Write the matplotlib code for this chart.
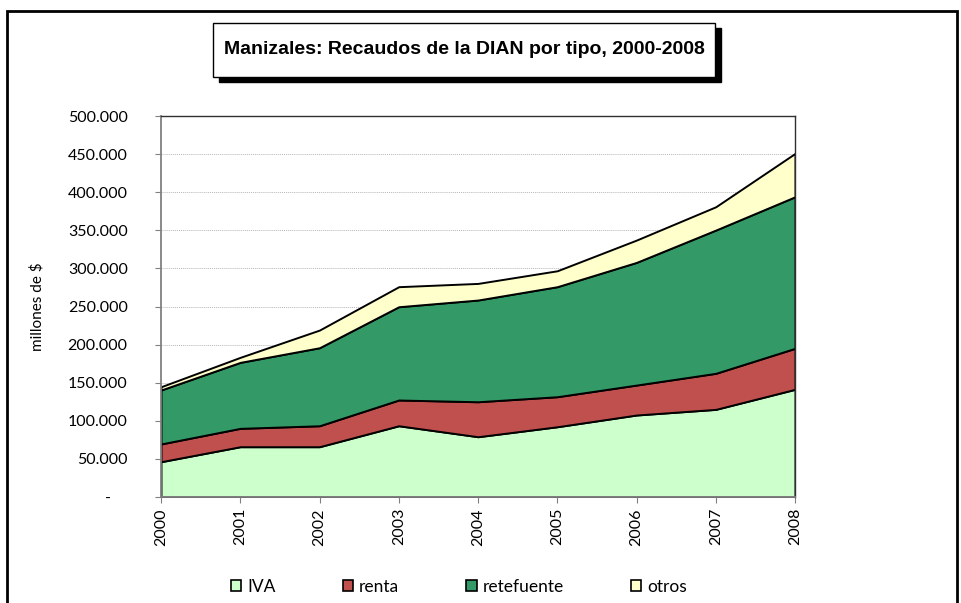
import matplotlib.pyplot as plt
from matplotlib.patches import Rectangle, Patch
from matplotlib.ticker import FuncFormatter

years = [2000, 2001, 2002, 2003, 2004, 2005, 2006, 2007, 2008]
iva = [46300, 66000, 66000, 93500, 79100, 92200, 107600, 115000, 141300]
renta = [23300, 24100, 27500, 33800, 45900, 39400, 39300, 47300, 53800]
retefuente = [70800, 86600, 102400, 122400, 133500, 144400, 161000, 188000, 198900]
otros = [4300, 6600, 23200, 26300, 21800, 20900, 29300, 30600, 56900]

names = ['IVA', 'renta', 'retefuente', 'otros']
colors = ['#CCFFCC', '#C0504D', '#339966', '#FFFFCC']

W, H = 961, 603
fig = plt.figure(figsize=(W / 100, H / 100), dpi=100)

# outer chart border
fig.patches.append(Rectangle((7 / W, -0.05), 950 / W, 1.05 - 11 / H,
                             transform=fig.transFigure, fill=False,
                             edgecolor='black', linewidth=2))

ax = fig.add_axes([161 / W, 1 - 497 / H, 634 / W, 381 / H])
ax.stackplot(years, iva, renta, retefuente, otros, colors=colors,
             edgecolor='black', linewidth=1.4, labels=names)
ax.set_xlim(2000, 2008)
ax.set_ylim(0, 500000)
ax.set_yticks(range(0, 500001, 50000))
ax.set_xticks(years)

def fmt(v, pos):
    if v == 0:
        return '-    '
    return f'{int(v):,}'.replace(',', '.')

ax.yaxis.set_major_formatter(FuncFormatter(fmt))
ax.grid(axis='y', color='#b8b8b8', linestyle=(0, (1, 1)), linewidth=0.7)
ax.set_axisbelow(True)
for s in ['left', 'bottom']:
    ax.spines[s].set_color('#808080')
    ax.spines[s].set_linewidth(1.3)
for s in ['top', 'right']:
    ax.spines[s].set_color('#303030')
    ax.spines[s].set_linewidth(1)
ax.tick_params(axis='both', direction='out', length=4, color='#808080',
               labelsize=11.5)
ax.tick_params(axis='x', labelrotation=90, pad=4)
ax.tick_params(axis='y', pad=20)
for lab in ax.get_xticklabels() + ax.get_yticklabels():
    lab.set_family('Lato')
ax.set_ylabel('millones de $', family='Lato', fontsize=11, labelpad=17)

# title box with shadow
fig.patches.append(Rectangle((219 / W, 1 - 82 / H), 502 / W, 54 / H,
                             transform=fig.transFigure, facecolor='black',
                             edgecolor='black', zorder=1))
fig.patches.append(Rectangle((213 / W, 1 - 77 / H), 502 / W, 54 / H,
                             transform=fig.transFigure, facecolor='white',
                             edgecolor='black', linewidth=1, zorder=2))
fig.text(464 / W, 1 - 50 / H, 'Manizales: Recaudos de la DIAN por tipo, 2000-2008',
         ha='center', va='center', fontsize=14, fontweight='bold',
         family=['Liberation Sans', 'DejaVu Sans'], zorder=3)

handles = [Patch(facecolor=c, edgecolor='black', linewidth=1.2) for c in colors]
fig.legend(handles, names, loc='center', bbox_to_anchor=(459 / W, 1 - 587 / H),
           ncol=4, frameon=False, handlelength=0.6, handleheight=0.6,
           handletextpad=0.35, columnspacing=3.85,
           prop={'family': 'Lato', 'size': 12.5})

fig.savefig('out.png', dpi=100)
